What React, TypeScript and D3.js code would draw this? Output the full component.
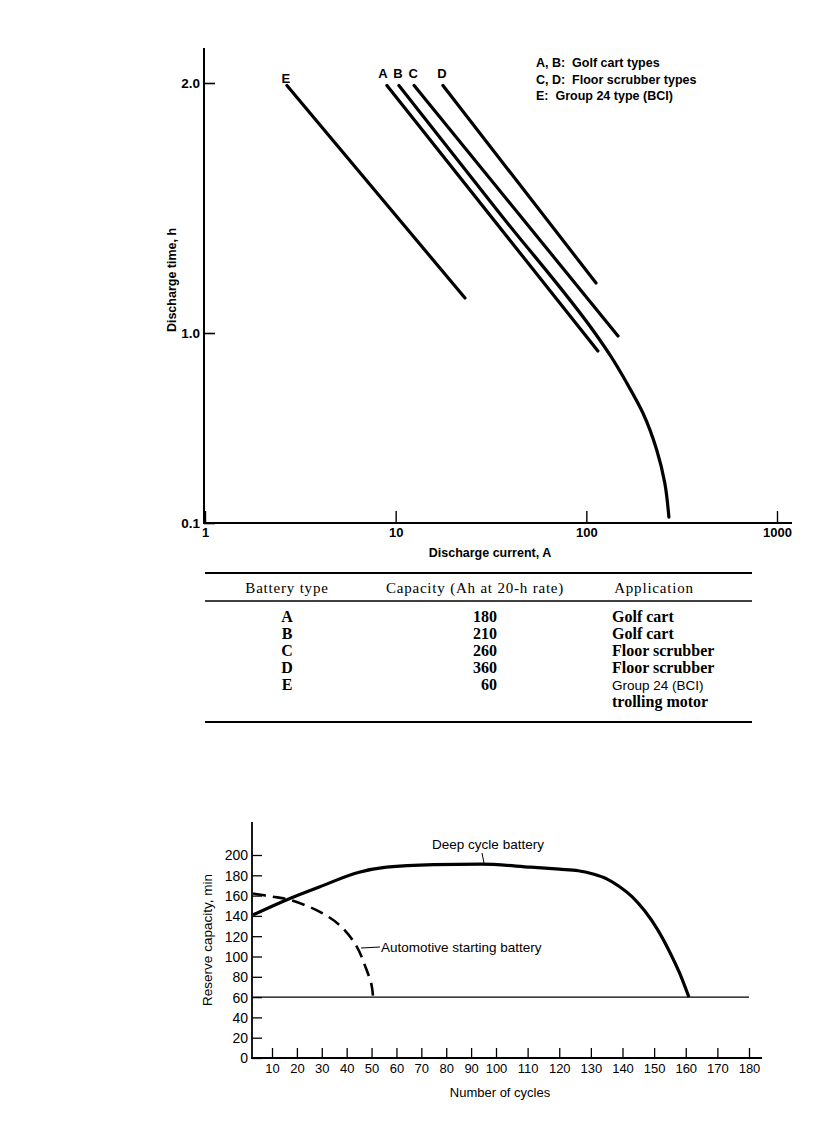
import { useEffect, useRef } from 'react'
import * as d3 from 'd3'

type Pt = [number, number]

// ---- discharge time vs current (top chart)
const currentTicks = [1, 10, 100, 1000]
const currentTickLabels = ['1', '10', '100', '1000']
const timeTicks = [0.1, 1.0, 2.0]
const timeTickLabels = ['0.1', '1.0', '2.0']

// [current A, time h]
const seriesE: Pt[] = [[2.69, 1.99], [23.1, 1.14]]
const seriesA: Pt[] = [[9.0, 1.99], [115, 0.915]]
const seriesB: Pt[] = [
  [10.4, 1.99], [35, 1.48], [115, 0.98], [133, 0.896], [163, 0.763],
  [198, 0.621], [234, 0.446], [258, 0.289], [271, 0.128],
]
const seriesC: Pt[] = [[12.5, 1.99], [146.6, 0.986]]
const seriesD: Pt[] = [[17.7, 1.99], [112.4, 1.2]]
const seriesNames = ['A', 'B', 'C', 'D', 'E']

const legendLines = [
  'A, B:  Golf cart types',
  'C, D:  Floor scrubber types',
  'E:  Group 24 type (BCI)',
]

// ---- table
const tableHeaders = ['Battery type', 'Capacity (Ah at 20-h rate)', 'Application']
const batteryTypes = ['A', 'B', 'C', 'D', 'E']
const capacities = [180, 210, 260, 360, 60]
const applications = ['Golf cart', 'Golf cart', 'Floor scrubber', 'Floor scrubber', 'Group 24 (BCI)']
const applicationExtra = 'trolling motor'

// ---- reserve capacity vs cycles (bottom chart)
const cycleTicks = [10, 20, 30, 40, 50, 60, 70, 80, 90, 100, 110, 120, 130, 140, 150, 160, 170, 180]
const reserveTicks = [0, 20, 40, 60, 80, 100, 120, 140, 160, 180, 200]
// [cycles, minutes]
const deepCycle: Pt[] = [
  [0, 141], [16, 156], [29, 168.5], [45, 183], [56, 188], [75, 190.5], [94, 191],
  [111, 188], [120, 186], [126, 184.5], [131, 181], [135, 176.5], [139, 169],
  [143, 159], [147, 145], [151, 127], [155, 104], [158, 84], [161, 60],
]
const automotive: Pt[] = [
  [0, 162], [10, 159], [17, 156], [30, 143], [38, 129], [44, 110],
  [47.5, 90], [50, 72], [50.6, 60],
]
const cutoffReserve = 60

const sans = 'Liberation Sans, Arial, Helvetica, sans-serif'
const serif = 'Liberation Serif, Times New Roman, serif'

const App = () => {
  const svgRef = useRef<SVGSVGElement | null>(null)

  useEffect(() => {
    if (!svgRef.current) return
    const svg = d3.select(svgRef.current)
    svg.selectAll('*').remove()

    // ===== top chart
    const x = d3.scaleLog().domain([1, 1000]).range([205, 777])
    // hand-drawn axis: 0.1..1 compressed, 1..2 linear
    const y = d3.scaleLinear().domain([0.1, 1.0, 2.0]).range([523, 333, 83])

    const top = svg.append('g')

    // axis lines
    top.append('line').attr('x1', 204).attr('x2', 204).attr('y1', 48).attr('y2', 524)
      .attr('stroke', '#000').attr('stroke-width', 2)
    top.append('line').attr('x1', 203).attr('x2', 792).attr('y1', 523).attr('y2', 523)
      .attr('stroke', '#000').attr('stroke-width', 2)

    const yAxis = d3.axisLeft(y).tickValues(timeTicks).tickSize(-11).tickPadding(4)
      .tickFormat((_, i) => timeTickLabels[i])
    const gy = top.append('g').attr('transform', 'translate(204,0)').call(yAxis)
    gy.select('.domain').remove()
    gy.selectAll('line').attr('stroke-width', 1.6)
    gy.selectAll('text').attr('font-family', sans).attr('font-size', 13.5).attr('font-weight', 'bold')
      .attr('dy', '0.35em')

    const xAxis = d3.axisBottom(x).tickValues(currentTicks).tickSize(-12).tickPadding(5)
      .tickFormat((_, i) => currentTickLabels[i])
    const gx = top.append('g').attr('transform', 'translate(0,523)').call(xAxis)
    gx.select('.domain').remove()
    gx.selectAll('line').attr('stroke-width', 1.4)
    gx.selectAll('text').attr('font-family', sans).attr('font-size', 13).attr('font-weight', 'bold')

    const line = d3.line<Pt>().x((d) => x(d[0])).y((d) => y(d[1]))
    const curvy = d3.line<Pt>().x((d) => x(d[0])).y((d) => y(d[1])).curve(d3.curveMonotoneY)

    const allSeries = [seriesA, seriesB, seriesC, seriesD, seriesE]
    allSeries.forEach((s, i) => {
      top.append('path').datum(s)
        .attr('fill', 'none').attr('stroke', '#000').attr('stroke-width', 3.2)
        .attr('stroke-linecap', 'round')
        .attr('d', i === 1 ? curvy : line)
    })

    // series letters above the start of each line
    const labelOffset: Record<string, [number, number]> = {
      A: [-4, -8], B: [-1, -8], C: [-1, -8], D: [-1, -8], E: [-1, -3],
    }
    allSeries.forEach((s, i) => {
      const name = seriesNames[i]
      top.append('text')
        .attr('x', x(s[0][0]) + labelOffset[name][0])
        .attr('y', y(s[0][1]) + labelOffset[name][1])
        .attr('text-anchor', 'middle')
        .attr('font-family', sans).attr('font-size', 13).attr('font-weight', 'bold')
        .text(name)
    })

    legendLines.forEach((t, i) => {
      top.append('text')
        .attr('x', 536).attr('y', 67 + i * 16.5)
        .attr('font-family', sans).attr('font-size', 12.5).attr('font-weight', 'bold')
        .style('white-space', 'pre')
        .text(t)
    })

    top.append('text')
      .attr('x', 490).attr('y', 557)
      .attr('text-anchor', 'middle')
      .attr('font-family', sans).attr('font-size', 12.5).attr('font-weight', 'bold')
      .text('Discharge current, A')

    top.append('text')
      .attr('transform', 'translate(176,280) rotate(-90)')
      .attr('text-anchor', 'middle')
      .attr('font-family', sans).attr('font-size', 12.5).attr('font-weight', 'bold')
      .text('Discharge time, h')

    // ===== table
    const tbl = svg.append('g')
    const left = 205
    const right = 752
    tbl.append('line').attr('x1', left).attr('x2', right).attr('y1', 573).attr('y2', 573)
      .attr('stroke', '#000').attr('stroke-width', 2)
    tbl.append('line').attr('x1', left).attr('x2', right).attr('y1', 601).attr('y2', 601)
      .attr('stroke', '#000').attr('stroke-width', 1.5)
    tbl.append('line').attr('x1', left).attr('x2', right).attr('y1', 722).attr('y2', 722)
      .attr('stroke', '#000').attr('stroke-width', 2)

    const headerX = [287, 475, 654]
    tableHeaders.forEach((h, i) => {
      tbl.append('text')
        .attr('x', headerX[i]).attr('y', 593)
        .attr('text-anchor', 'middle')
        .attr('font-family', serif).attr('font-size', 15).attr('letter-spacing', 0.8)
        .text(h)
    })

    const rowY = (i: number) => 622 + i * 17
    batteryTypes.forEach((b, i) => {
      tbl.append('text')
        .attr('x', 287).attr('y', rowY(i))
        .attr('text-anchor', 'middle')
        .attr('font-family', serif).attr('font-size', 16).attr('font-weight', 'bold')
        .text(b)
      tbl.append('text')
        .attr('x', 497).attr('y', rowY(i))
        .attr('text-anchor', 'end')
        .attr('font-family', serif).attr('font-size', 16).attr('font-weight', 'bold')
        .text(String(capacities[i]))
      const isSans = applications[i].startsWith('Group')
      tbl.append('text')
        .attr('x', 612).attr('y', rowY(i))
        .attr('font-family', isSans ? sans : serif)
        .attr('font-size', isSans ? 13.5 : 16)
        .attr('font-weight', isSans ? 'normal' : 'bold')
        .text(applications[i])
    })
    tbl.append('text')
      .attr('x', 612).attr('y', rowY(5))
      .attr('font-family', serif).attr('font-size', 16).attr('font-weight', 'bold')
      .text(applicationExtra)

    // ===== bottom chart
    // hand-drawn cycle axis: spacing widens after 100
    const xc = d3.scaleLinear().domain([0, 10, 100, 180]).range([253, 272, 496, 749])
    const yc = d3.scaleLinear().domain([0, 200]).range([1058, 855])

    const bot = svg.append('g')
    bot.append('line').attr('x1', 252).attr('x2', 252).attr('y1', 822).attr('y2', 1059)
      .attr('stroke', '#000').attr('stroke-width', 1.8)
    bot.append('line').attr('x1', 251).attr('x2', 762).attr('y1', 1058).attr('y2', 1058)
      .attr('stroke', '#000').attr('stroke-width', 1.8)

    const ycAxis = d3.axisLeft(yc).tickValues(reserveTicks).tickSize(-10).tickPadding(4)
      .tickFormat(d3.format('d'))
    const gyc = bot.append('g').attr('transform', 'translate(252,0)').call(ycAxis)
    gyc.select('.domain').remove()
    gyc.selectAll('line').attr('stroke-width', 1.3)
    gyc.selectAll('text').attr('font-family', sans).attr('font-size', 14).attr('dy', '0.35em')

    const xcAxis = d3.axisBottom(xc).tickValues(cycleTicks).tickSize(-10).tickPadding(6)
      .tickFormat(d3.format('d'))
    const gxc = bot.append('g').attr('transform', 'translate(0,1058)').call(xcAxis)
    gxc.select('.domain').remove()
    gxc.selectAll('line').attr('stroke-width', 1.3)
    gxc.selectAll('text').attr('font-family', sans).attr('font-size', 13)

    // 60 min reference line
    bot.append('line')
      .attr('x1', xc(0)).attr('x2', xc(180))
      .attr('y1', yc(cutoffReserve)).attr('y2', yc(cutoffReserve))
      .attr('stroke', '#000').attr('stroke-width', 1.4)

    const cycLine = d3.line<Pt>().x((d) => xc(d[0])).y((d) => yc(d[1])).curve(d3.curveMonotoneX)

    bot.append('path').datum(deepCycle)
      .attr('fill', 'none').attr('stroke', '#000').attr('stroke-width', 3.2)
      .attr('d', cycLine)

    bot.append('path').datum(automotive)
      .attr('fill', 'none').attr('stroke', '#000').attr('stroke-width', 2.6)
      .attr('stroke-dasharray', '13,7')
      .attr('d', d3.line<Pt>().x((d) => xc(d[0])).y((d) => yc(d[1])).curve(d3.curveCatmullRom))

    // labels with leaders
    bot.append('text')
      .attr('x', 488).attr('y', 849)
      .attr('text-anchor', 'middle')
      .attr('font-family', sans).attr('font-size', 13.5)
      .text('Deep cycle battery')
    bot.append('line').attr('x1', 482).attr('x2', 484).attr('y1', 853).attr('y2', 863)
      .attr('stroke', '#000').attr('stroke-width', 1)

    bot.append('text')
      .attr('x', 381).attr('y', 952)
      .attr('font-family', sans).attr('font-size', 13.5)
      .text('Automotive starting battery')
    bot.append('line').attr('x1', 361).attr('x2', 380).attr('y1', 948).attr('y2', 947)
      .attr('stroke', '#000').attr('stroke-width', 1)

    bot.append('text')
      .attr('x', 500).attr('y', 1097)
      .attr('text-anchor', 'middle')
      .attr('font-family', sans).attr('font-size', 13)
      .text('Number of cycles')

    bot.append('text')
      .attr('transform', 'translate(212,940) rotate(-90)')
      .attr('text-anchor', 'middle')
      .attr('font-family', sans).attr('font-size', 13.5)
      .text('Reserve capacity, min')
  }, [])

  return (
    <svg
      ref={svgRef}
      width={840}
      height={1140}
      style={{ position: 'absolute', left: 0, top: 0, background: '#fff' }}
    />
  )
}

export default App
